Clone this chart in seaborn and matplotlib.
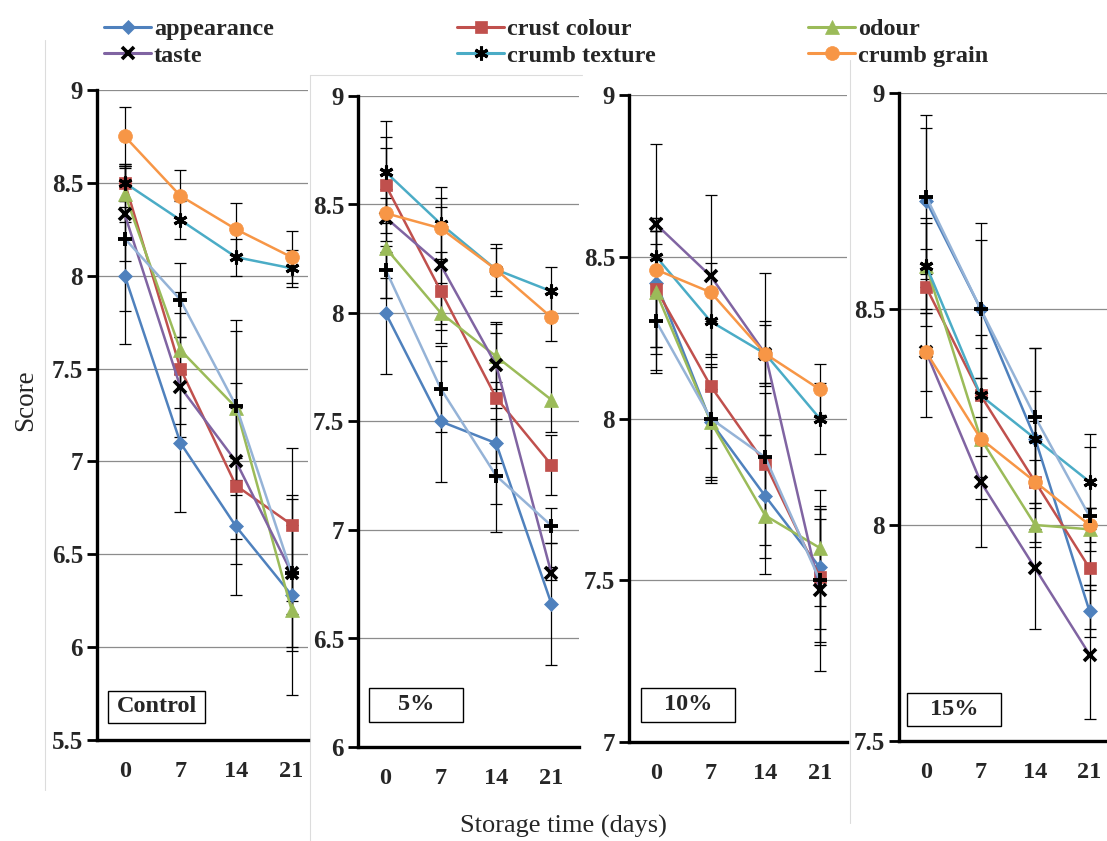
import numpy as np
import pandas as pd
import matplotlib
matplotlib.use("Agg")
import matplotlib.pyplot as plt
import seaborn as sns
from matplotlib.lines import Line2D
from matplotlib.patches import Rectangle
from matplotlib.ticker import FixedLocator, FuncFormatter

# ---------------- data ----------------
days = [0, 7, 14, 21]
attributes = ["appearance", "crust colour", "odour", "taste",
              "crumb texture", "crumb grain", "overall acceptability"]
panel_labels = ["Control", "5%", "10%", "15%"]

control_scores = [
    [8.00, 7.10, 6.65, 6.28],
    [8.50, 7.50, 6.87, 6.66],
    [8.44, 7.60, 7.29, 6.20],
    [8.33, 7.40, 7.00, 6.40],
    [8.50, 8.30, 8.10, 8.04],
    [8.75, 8.43, 8.25, 8.10],
    [8.20, 7.87, 7.30, 6.40],
]
control_err = [
    [0.37, 0.37, 0.37, 0.10],
    [0.10, 0.30, 0.42, 0.41],
    [0.15, 0.31, 0.47, 0.46],
    [0.25, 0.27, 0.42, 0.40],
    [0.10, 0.10, 0.10, 0.10],
    [0.16, 0.14, 0.14, 0.14],
    [0.39, 0.20, 0.40, 0.42],
]
p5_scores = [
    [8.00, 7.50, 7.40, 6.66],
    [8.59, 8.10, 7.61, 7.30],
    [8.30, 8.00, 7.80, 7.60],
    [8.44, 8.22, 7.76, 6.80],
    [8.65, 8.41, 8.20, 8.10],
    [8.46, 8.39, 8.20, 7.98],
    [8.20, 7.65, 7.25, 7.02],
]
p5_err = [
    [0.28, 0.28, 0.28, 0.28],
    [0.22, 0.18, 0.30, 0.14],
    [0.23, 0.14, 0.15, 0.15],
    [0.13, 0.27, 0.20, 0.03],
    [0.235, 0.17, 0.12, 0.11],
    [0.30, 0.14, 0.10, 0.11],
    [0.13, 0.20, 0.26, 0.08],
]
p10_scores = [
    [8.42, 7.99, 7.76, 7.54],
    [8.40, 8.10, 7.86, 7.51],
    [8.39, 7.99, 7.70, 7.60],
    [8.60, 8.44, 8.20, 7.47],
    [8.50, 8.30, 8.20, 8.00],
    [8.46, 8.39, 8.20, 8.09],
    [8.30, 8.00, 7.88, 7.50],
]
p10_err = [
    [0.20, 0.17, 0.19, 0.19],
    [0.18, 0.30, 0.25, 0.21],
    [0.19, 0.18, 0.18, 0.18],
    [0.02, 0.25, 0.09, 0.25],
    [0.35, 0.10, 0.10, 0.11],
    [0.08, 0.09, 0.25, 0.08],
    [0.16, 0.09, 0.20, 0.19],
]
p15_scores = [
    [8.75, 8.50, 8.20, 7.80],
    [8.55, 8.30, 8.10, 7.90],
    [8.60, 8.20, 8.00, 7.99],
    [8.40, 8.10, 7.90, 7.70],
    [8.60, 8.30, 8.20, 8.10],
    [8.40, 8.20, 8.10, 8.00],
    [8.76, 8.50, 8.25, 8.02],
]
p15_err = [
    [0.17, 0.16, 0.21, 0.06],
    [0.09, 0.14, 0.14, 0.14],
    [0.11, 0.14, 0.05, 0.05],
    [0.15, 0.15, 0.14, 0.15],
    [0.10, 0.11, 0.11, 0.11],
    [0.09, 0.09, 0.05, 0.04],
    [0.19, 0.20, 0.16, 0.16],
]
panel_scores = [control_scores, p5_scores, p10_scores, p15_scores]
panel_errs = [control_err, p5_err, p10_err, p15_err]

rows = []
for pl, sc, er in zip(panel_labels, panel_scores, panel_errs):
    for ai, att in enumerate(attributes):
        for di, d in enumerate(days):
            rows.append(dict(panel=pl, attribute=att, pos=di, day=d,
                             score=sc[ai][di], err=er[ai][di]))
df = pd.DataFrame(rows)

# ---------------- styles ----------------
line_colors = ["#4F81BD", "#C0504D", "#9BBB59", "#8064A2",
               "#4BACC6", "#F79646", "#95B3D7"]
mk_colors = ["#4F81BD", "#C0504D", "#9BBB59", "black",
             "black", "#F79646", "black"]
mk_shapes = ["D", "s", "^", "x", (6, 2, 0), "o", "+"]
mk_sizes = [7, 9, 10, 9, 10, 10, 10]
mk_mew = [0.5, 0.5, 0.5, 2.6, 2.2, 0.5, 2.8]

sns.set_style("white")
plt.rcParams["font.family"] = ["Liberation Serif", "DejaVu Serif"]
plt.rcParams["font.weight"] = "bold"

W, H = 1107, 841
fig = plt.figure(figsize=(W / 100, H / 100), dpi=100)
fig.patch.set_facecolor("white")

def px_axes(left, top, right, bottom):
    return fig.add_axes([left / W, 1 - bottom / H, (right - left) / W, (bottom - top) / H])

# left, top, right, bottom, ymin, xmax
panel_geom = [
    (97, 90, 308, 740, 5.5, 3.295),
    (358, 96, 579, 747, 6.0, 3.5),
    (629, 95, 847, 742, 7.0, 3.5),
    (899, 93, 1107, 741, 7.5, 3.32),
]
label_boxes = [
    (108, 691, 205, 723),
    (369, 688, 463, 722),
    (641, 688, 735, 722),
    (907, 693, 1001, 726),
]

# faint image borders of the composed figure
for (x0, y0, x1, y1) in [(45, 40, 45, 790), (310, 75, 310, 841), (310, 75, 582, 75), (850, 60, 850, 823)]:
    fig.add_artist(Line2D([x0 / W, x1 / W], [1 - y0 / H, 1 - y1 / H],
                          color="#dcdcdc", lw=0.8, transform=fig.transFigure, zorder=-1))

for pi, (pl, geom) in enumerate(zip(panel_labels, panel_geom)):
    left, top, right, bottom, ymin, xmax = geom
    ax = px_axes(left, top, right, bottom)
    ax.set_facecolor("white")
    sub_p = df[df.panel == pl]
    for ai, att in enumerate(attributes):
        sub = sub_p[sub_p.attribute == att]
        ax.errorbar(sub.pos, sub.score, yerr=sub.err, fmt="none", ecolor="black",
                    elinewidth=0.9, capsize=4.3, capthick=0.9, zorder=3 + ai * 0.1)
    for ai, att in enumerate(attributes):
        sub = sub_p[sub_p.attribute == att]
        sns.lineplot(data=sub, x="pos", y="score", ax=ax, color=line_colors[ai],
                     lw=1.8, marker=mk_shapes[ai], markersize=mk_sizes[ai],
                     markerfacecolor=mk_colors[ai], markeredgecolor=mk_colors[ai],
                     markeredgewidth=mk_mew[ai], errorbar=None, legend=False,
                     zorder=4 + ai * 0.1, clip_on=True)
    ax.set_xlabel("")
    ax.set_ylabel("")
    ax.set_xlim(-0.5, xmax)
    ax.set_ylim(ymin, 9)
    ax.yaxis.set_major_locator(FixedLocator(np.arange(ymin, 9.001, 0.5)))
    ax.yaxis.set_major_formatter(FuncFormatter(lambda v, p: f"{v:g}"))
    ax.grid(axis="y", color="#8c8c8c", lw=0.9)
    ax.grid(axis="x", visible=False)
    ax.set_axisbelow(True)
    ax.set_xticks(range(len(days)))
    ax.set_xticklabels([str(d) for d in days])
    bnd = [b for b in np.arange(-0.5, 3.51, 1.0) if b <= xmax + 1e-6]
    ax.set_xticks(bnd, minor=True)
    ax.tick_params(axis="x", which="major", length=0, pad=15, labelsize=17.5)
    ax.tick_params(axis="x", which="minor", length=7, width=2, direction="out", color="black")
    ax.tick_params(axis="y", which="major", length=7, width=2, direction="out",
                   pad=3, labelsize=18, color="black", left=True)
    for s in ["top", "right"]:
        ax.spines[s].set_visible(False)
    for s in ["left", "bottom"]:
        ax.spines[s].set_linewidth(2.4)
        ax.spines[s].set_color("black")
    # panel label box
    bx0, by0, bx1, by1 = label_boxes[pi]
    fig.add_artist(Rectangle((bx0 / W, 1 - by1 / H), (bx1 - bx0) / W, (by1 - by0) / H,
                             transform=fig.transFigure, facecolor="white",
                             edgecolor="black", lw=1.0, zorder=5))
    fig.text((bx0 + bx1) / 2 / W, 1 - (by0 + by1) / 2 / H, pl, ha="center", va="center",
             fontsize=17.5, fontweight="bold", zorder=6)

# axis titles
fig.text(26 / W, 1 - 400 / H, "Score", rotation=90, ha="center", va="center",
         fontsize=19.5, fontweight="normal")
fig.text(563 / W, 1 - 826 / H, "Storage time (days)", ha="center", va="center",
         fontsize=19, fontweight="normal")

# legend: three columns, two rows
def handle(i):
    return Line2D([], [], color=line_colors[i], lw=2.2, marker=mk_shapes[i],
                  markersize=mk_sizes[i], markerfacecolor=mk_colors[i],
                  markeredgecolor=mk_colors[i], markeredgewidth=mk_mew[i])

legend_cols = [([0, 3], 104), ([1, 4], 457), ([2, 5], 808)]
for idx, xpx in legend_cols:
    fig.legend([handle(i) for i in idx], [attributes[i] for i in idx],
               loc="upper left", bbox_to_anchor=(xpx / W, 1 - 18 / H),
               frameon=False, handlelength=1.95, handletextpad=0.1,
               labelspacing=0.2, borderpad=0, borderaxespad=0,
               prop=dict(weight="bold", size=17.5))

fig.savefig("out.png", dpi=100, facecolor="white")
